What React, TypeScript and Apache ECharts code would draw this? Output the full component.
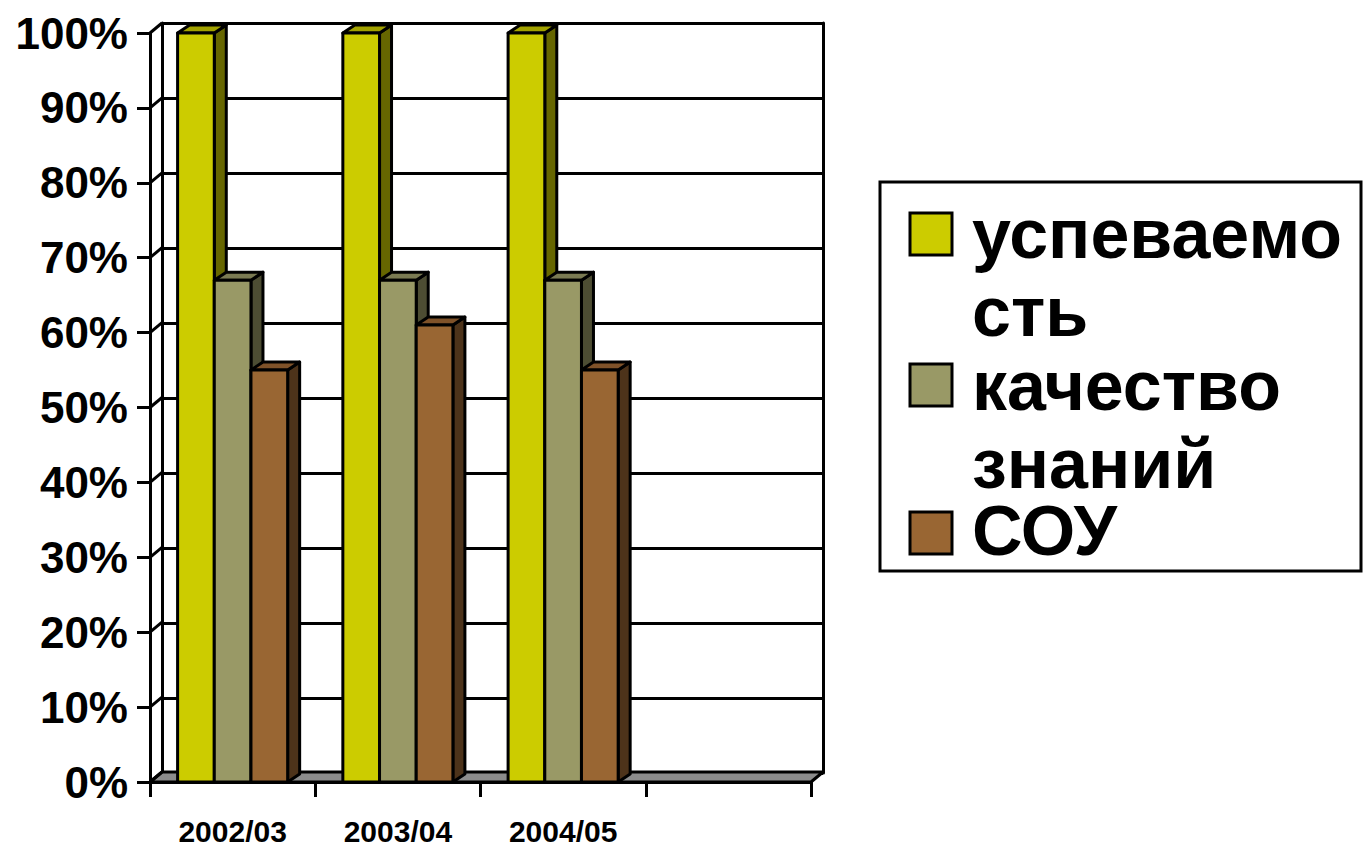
import React, { useEffect, useRef } from "react";
import * as echarts from "echarts";

// ---- data ----
const categories = ["2002/03", "2003/04", "2004/05", ""];
const seriesNames = ["успеваемость", "качество знаний", "СОУ"];
// legend labels as wrapped in the reference's narrow legend box
const legendLabels = ["успеваемо\nсть", "качество\nзнаний", "СОУ"];
const successRate = [1.0, 1.0, 1.0];
const knowledgeQuality = [0.67, 0.67, 0.67];
const souValues = [0.55, 0.61, 0.55];
const yTickValues = [0, 0.1, 0.2, 0.3, 0.4, 0.5, 0.6, 0.7, 0.8, 0.9, 1.0];

// ---- style ----
const FONT = '"Liberation Sans", Arial, sans-serif';
const WALL_DX = 12;
const WALL_DY = -10;
const BAR_DX = 12;
const BAR_DY = -8;
const BAR_FRACTION = 0.222;
const LINE = { stroke: "#000", lineWidth: 3, lineJoin: "round" as const };

const palettes = [
  { front: "#CCCC00", top: "#A3A300", side: "#666600" },
  { front: "#999966", top: "#7A7A52", side: "#4D4D33" },
  { front: "#996633", top: "#7F5229", side: "#4D331A" },
];

function barRenderer(pos: number) {
  const pal = palettes[pos];
  return (params: any, api: any) => {
    const cat = api.value(0);
    const val = api.value(1);
    const top = api.coord([cat, val]);
    const base = api.coord([cat, 0]);
    const band = api.size([1, 0])[0];
    const bw = band * BAR_FRACTION;
    const x0 = top[0] - 1.5 * bw + pos * bw;
    const x1 = x0 + bw;
    const yT = top[1];
    const yB = base[1];
    return {
      type: "group",
      children: [
        {
          type: "polygon",
          shape: { points: [[x1, yT], [x1 + BAR_DX, yT + BAR_DY], [x1 + BAR_DX, yB + BAR_DY], [x1, yB]] },
          style: { fill: pal.side, ...LINE },
        },
        {
          type: "polygon",
          shape: { points: [[x0, yT], [x0 + BAR_DX, yT + BAR_DY], [x1 + BAR_DX, yT + BAR_DY], [x1, yT]] },
          style: { fill: pal.top, ...LINE },
        },
        {
          type: "rect",
          shape: { x: x0, y: yT, width: bw, height: yB - yT },
          style: { fill: pal.front, ...LINE },
        },
      ],
    };
  };
}

const seriesValues = [successRate, knowledgeQuality, souValues];

export default function App() {
  const ref = useRef<HTMLDivElement>(null);
  useEffect(() => {
    if (!ref.current) return;
    const chart = echarts.init(ref.current, undefined, { renderer: "svg" });
    const axisLineStyle = { color: "#000", width: 3 };

    const legendChildren: any[] = [
      {
        type: "rect",
        shape: { x: 880, y: 182, width: 481, height: 389 },
        style: { fill: "#fff", stroke: "#000", lineWidth: 3 },
      },
    ];
    // first-line centre of each legend entry, and its line height
    const legendLineMid = [234, 386, 531];
    const legendLineHeight = [78, 78, 54];
    const iconTop = [213, 364, 512];
    legendLabels.forEach((label, i) => {
      legendChildren.push({
        type: "rect",
        shape: { x: 910, y: iconTop[i], width: 42, height: 42 },
        style: { fill: palettes[i].front, stroke: "#000", lineWidth: 3 },
      });
      legendChildren.push({
        type: "text",
        x: 972,
        y: legendLineMid[i] - legendLineHeight[i] / 2,
        style: {
          text: label,
          fontSize: 70,
          fontWeight: "bold",
          fontFamily: FONT,
          fill: "#000",
          lineHeight: legendLineHeight[i],
          verticalAlign: "top",
          align: "left",
        },
      });
    });

    chart.setOption({
      animation: false,
      backgroundColor: "#fff",
      textStyle: { fontFamily: FONT },
      grid: [
        { left: 150, top: 33, width: 661, height: 750, containLabel: false },
        { left: 150 + WALL_DX, top: 33 + WALL_DY, width: 661, height: 750, containLabel: false },
      ],
      xAxis: [
        {
          gridIndex: 0,
          type: "category",
          data: categories,
          boundaryGap: true,
          axisLine: { show: true, lineStyle: axisLineStyle },
          axisTick: { show: true, length: 15, lineStyle: axisLineStyle },
          axisLabel: {
            interval: 0,
            margin: 34,
            fontSize: 30,
            fontWeight: "bold",
            color: "#000",
            fontFamily: FONT,
          },
          splitLine: { show: false },
          z: 1,
        },
        { gridIndex: 1, type: "value", min: 0, max: 1, show: false },
      ],
      yAxis: [
        {
          gridIndex: 0,
          type: "value",
          min: 0,
          max: 1,
          interval: 0.1,
          axisLine: { show: true, lineStyle: axisLineStyle },
          axisTick: { show: true, length: 13, lineStyle: axisLineStyle },
          axisLabel: {
            formatter: (v: number) => Math.round(v * 100) + "%",
            margin: 22,
            fontSize: 44,
            fontWeight: "bold",
            color: "#000",
            fontFamily: FONT,
          },
          splitLine: { show: false },
        },
        {
          gridIndex: 1,
          type: "value",
          min: 0,
          max: 1,
          interval: 0.1,
          position: "left",
          axisLine: { show: true, lineStyle: axisLineStyle },
          axisTick: { show: false },
          axisLabel: { show: false },
          splitLine: { show: true, lineStyle: { color: "#000", width: 3 } },
        },
        {
          gridIndex: 1,
          type: "value",
          min: 0,
          max: 1,
          interval: 0.1,
          position: "right",
          axisLine: { show: true, lineStyle: axisLineStyle },
          axisTick: { show: false },
          axisLabel: { show: false },
          splitLine: { show: false },
        },
      ],
      series: [
        {
          type: "custom",
          name: "floor",
          xAxisIndex: 0,
          yAxisIndex: 0,
          silent: true,
          data: [[0, 0]],
          renderItem: (params: any, api: any) => {
            const cs = params.coordSys;
            const y0 = api.coord([0, 0])[1];
            return {
              type: "polygon",
              shape: {
                points: [
                  [cs.x, y0],
                  [cs.x + cs.width, y0],
                  [cs.x + cs.width + WALL_DX, y0 + WALL_DY],
                  [cs.x + WALL_DX, y0 + WALL_DY],
                ],
              },
              style: { fill: "#8C8C8C", ...LINE },
            };
          },
        },
        {
          type: "custom",
          name: "wall",
          xAxisIndex: 0,
          yAxisIndex: 0,
          silent: true,
          data: yTickValues.map((v) => [0, v]),
          renderItem: (params: any, api: any) => {
            const cs = params.coordSys;
            const y = api.coord([0, api.value(1)])[1];
            return {
              type: "line",
              shape: { x1: cs.x, y1: y, x2: cs.x + WALL_DX, y2: y + WALL_DY },
              style: { stroke: "#000", lineWidth: 3 },
            };
          },
        },
        ...seriesNames.map((name, i) => ({
          type: "custom",
          name,
          xAxisIndex: 0,
          yAxisIndex: 0,
          data: seriesValues[i].map((v, k) => [k, v]),
          renderItem: barRenderer(i),
        })),
      ],
      graphic: [{ type: "group", children: legendChildren }],
    });
    return () => chart.dispose();
  }, []);

  return (
    <div
      ref={ref}
      style={{ position: "absolute", left: 0, top: 0, width: 1364, height: 846 }}
    />
  );
}
